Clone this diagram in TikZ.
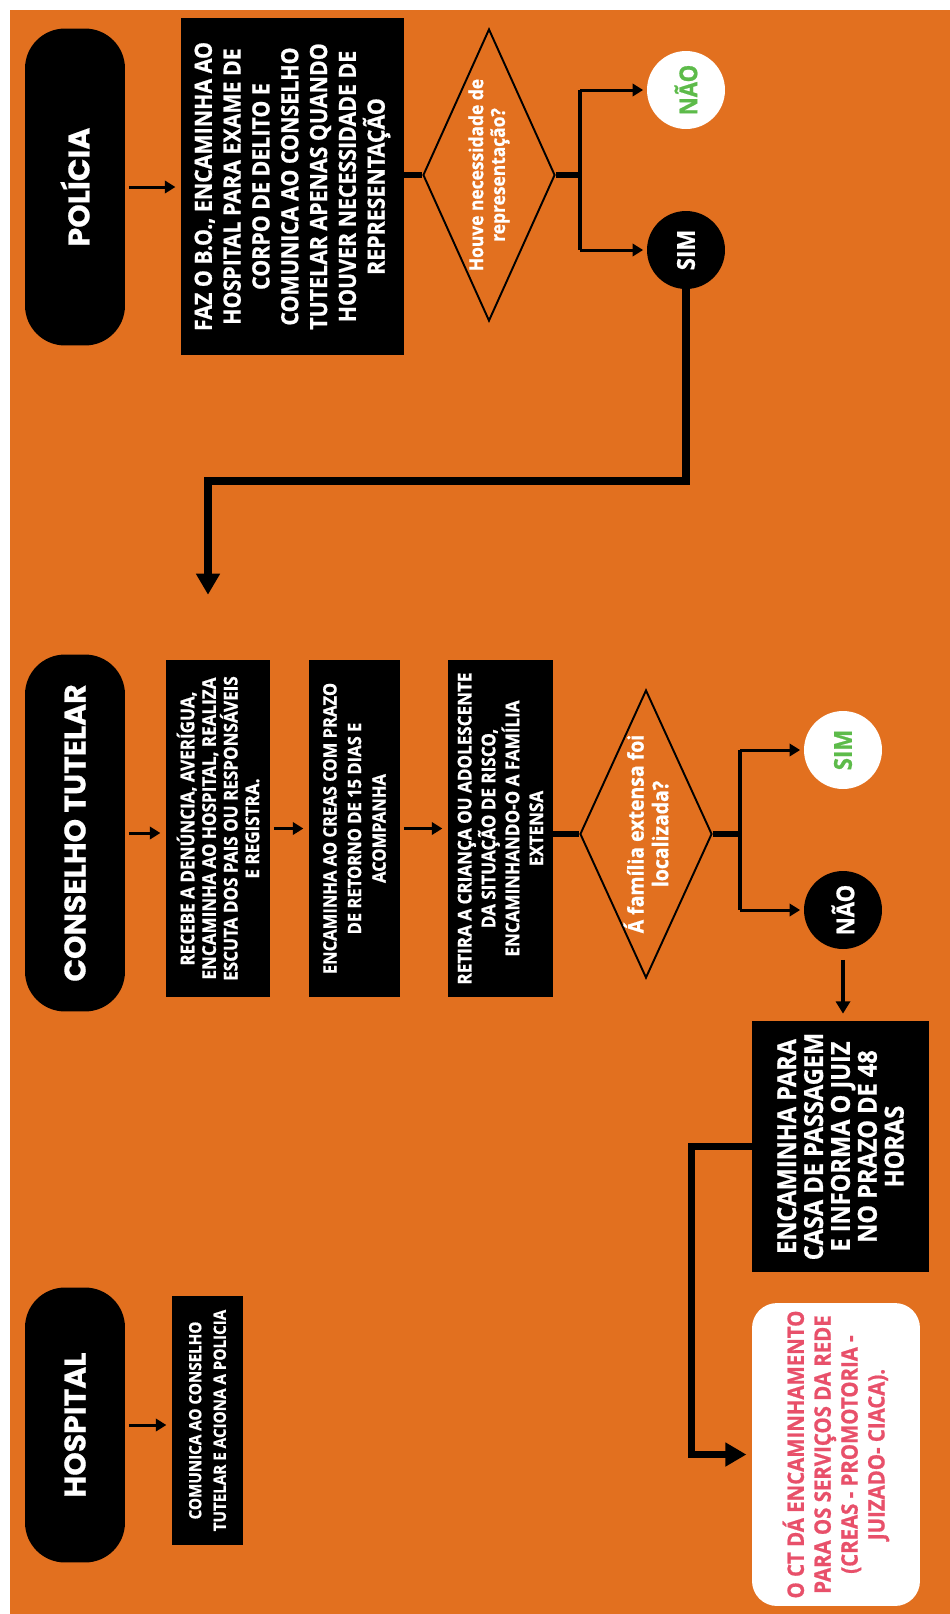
\documentclass[tikz,border=0pt]{standalone}
\usepackage{fontspec}
\setmainfont{Open Sans}[FakeStretch=0.9, BoldFeatures={FakeBold=0.8}]
\newfontfamily\titlefont{Poppins}[BoldFeatures={FakeBold=0.5}]
\usetikzlibrary{shapes.geometric, arrows.meta}
\definecolor{bgorange}{HTML}{E2701F}
\definecolor{okgreen}{HTML}{5DBB4A}
\definecolor{notered}{HTML}{E8506A}

\begin{document}
\begin{tikzpicture}[
    x=0.02cm, y=-0.02cm,
    pill/.style={rectangle, rounded corners=0.8cm, fill=black, text=white, rotate=90, minimum height=2cm, inner sep=0pt, font=\titlefont\bfseries\fontsize{17}{20}\selectfont},
    block/.style={rectangle, fill=black, text=white, rotate=90, align=center, inner sep=0pt},
    note/.style={rectangle, rounded corners=0.5cm, fill=white, text=notered, rotate=90, align=center, inner sep=0pt, font=\bfseries\fontsize{12.9}{15.3}\selectfont},
    decision/.style={diamond, draw=black, line width=1.1pt, rotate=90, inner sep=0pt},
    question/.style={text=white, rotate=90, align=center, inner sep=0pt},
    answer/.style={circle, minimum size=1.56cm, inner sep=0pt, rotate=90, font=\bfseries\fontsize{14}{16}\selectfont},
    yesno/.style={answer, fill=black, text=white},
    outcome/.style={answer, fill=white, text=okgreen},
    arrow/.style={-{Triangle[length=6pt, width=7pt]}, line width=1.7pt, shorten <=2pt, shorten >=3pt},
    branch/.style={-{Triangle[length=6pt, width=7pt]}, line width=1.7pt, shorten >=2pt},
    drop/.style={-{Triangle[length=7pt, width=8pt]}, line width=2.2pt, shorten <=6pt, shorten >=4pt},
    bar/.style={line width=3.5pt},
    fork/.style={line width=2.8pt},
    bigarrow/.style={-{Triangle[length=12pt, width=13pt]}, line width=4pt, shorten >=3pt}
]
    \fill[white] (0,0) rectangle (950,1614);
    \fill[bgorange] (10,10) rectangle (950,1614);

    \node[pill, minimum width=6.34cm] (polpill) at (75,187) {POLÍCIA};
    \node[block, minimum width=6.74cm, minimum height=4.46cm, font=\bfseries\fontsize{13.5}{16.4}\selectfont] (polbox) at (292.5,186.5) {FAZ O B.O., ENCAMINHA AO\\HOSPITAL PARA EXAME DE\\CORPO DE DELITO E\\COMUNICA AO CONSELHO\\TUTELAR APENAS QUANDO\\HOUVER NECESSIDADE DE\\REPRESENTAÇÃO};
    \node[decision, minimum width=5.84cm, minimum height=2.64cm] (repdec) at (489,175) {};
    \node[question, font=\bfseries\fontsize{11}{12.4}\selectfont] (repq) at (repdec) {Houve necessidade de\\representação?};
    \node[outcome] (repnao) at (686,90) {NÃO};
    \node[yesno] (repsim) at (686,250) {SIM};
    \coordinate (repfork) at (580,175);
    \coordinate (desvio) at (208,481);
    \coordinate (chega) at (208,600);

    \node[pill, minimum width=7.14cm] (ctpill) at (75,833) {CONSELHO TUTELAR};
    \node[block, minimum width=6.74cm, minimum height=2.08cm, font=\bfseries\fontsize{10.8}{12.3}\selectfont] (recebe) at (218,828.5) {RECEBE A DENÚNCIA, AVERÍGUA,\\ENCAMINHA AO HOSPITAL, REALIZA\\ESCUTA DOS PAIS OU RESPONSÁVEIS\\E REGISTRA.};
    \node[block, minimum width=6.74cm, minimum height=1.82cm, font=\bfseries\fontsize{10.5}{14}\selectfont] (creas) at (354.5,828.5) {ENCAMINHA AO CREAS COM PRAZO\\DE RETORNO DE 15 DIAS E\\ACOMPANHA};
    \node[block, minimum width=6.74cm, minimum height=2.1cm, font=\bfseries\fontsize{10.8}{13.6}\selectfont] (retira) at (500.5,828.5) {RETIRA A CRIANÇA OU ADOLESCENTE\\DA SITUAÇÃO DE RISCO,\\ENCAMINHANDO-O A FAMÍLIA\\EXTENSA};
    \node[decision, minimum width=5.76cm, minimum height=2.64cm] (famdec) at (646,834) {};
    \node[question, font=\bfseries\fontsize{12.3}{14}\selectfont] (famq) at (famdec) {Á família extensa foi\\localizada?};
    \node[outcome] (famsim) at (843,750) {SIM};
    \node[yesno] (famnao) at (843,910) {NÃO};
    \coordinate (famfork) at (740,834);
    \node[block, minimum width=5.02cm, minimum height=3.54cm, font=\bfseries\fontsize{14.9}{15.3}\selectfont] (casa) at (840.5,1146.5) {ENCAMINHA PARA\\CASA DE PASSAGEM\\E INFORMA O JUIZ\\NO PRAZO DE 48\\HORAS};
    \node[note, minimum width=6.06cm, minimum height=3.36cm] (rede) at (836,1454.5) {O CT DÁ ENCAMINHAMENTO\\PARA OS SERVIÇOS DA REDE\\(CREAS - PROMOTORIA -\\JUIZADO- CIACA).};

    \node[pill, minimum width=5.5cm] (hosppill) at (75,1425) {HOSPITAL};
    \node[block, minimum width=4.98cm, minimum height=1.42cm, font=\bfseries\fontsize{9.6}{14}\selectfont] (hospbox) at (207.5,1420.5) {COMUNICA AO CONSELHO\\TUTELAR E ACIONA A POLICIA};

    \draw[arrow] (polpill) -- (polpill -| polbox.north);
    \draw[bar] (polbox.south |- repdec) -- (repdec);
    \draw[bar] (repdec) -- (repfork);
    \draw[fork] (repfork |- repnao) -- (repfork |- repsim);
    \draw[branch] (repfork |- repnao) -- (repnao);
    \draw[branch] (repfork |- repsim) -- (repsim);
    \draw[bigarrow] (repsim) |- (desvio) -- (chega);

    \draw[arrow] (ctpill) -- (ctpill -| recebe.north);
    \draw[arrow] (recebe) -- (creas);
    \draw[arrow] (creas) -- (retira);
    \draw[bar] (retira.south |- famdec) -- (famdec);
    \draw[bar] (famdec) -- (famfork);
    \draw[fork] (famfork |- famsim) -- (famfork |- famnao);
    \draw[branch] (famfork |- famsim) -- (famsim);
    \draw[branch] (famfork |- famnao) -- (famnao);
    \draw[drop] (famnao) -- (famnao |- casa.east);
    \draw[bigarrow] (casa.north) -- ++(-60,0) |- (rede.north);

    \draw[arrow] (hosppill) -- (hosppill -| hospbox.north);
\end{tikzpicture}
\end{document}
